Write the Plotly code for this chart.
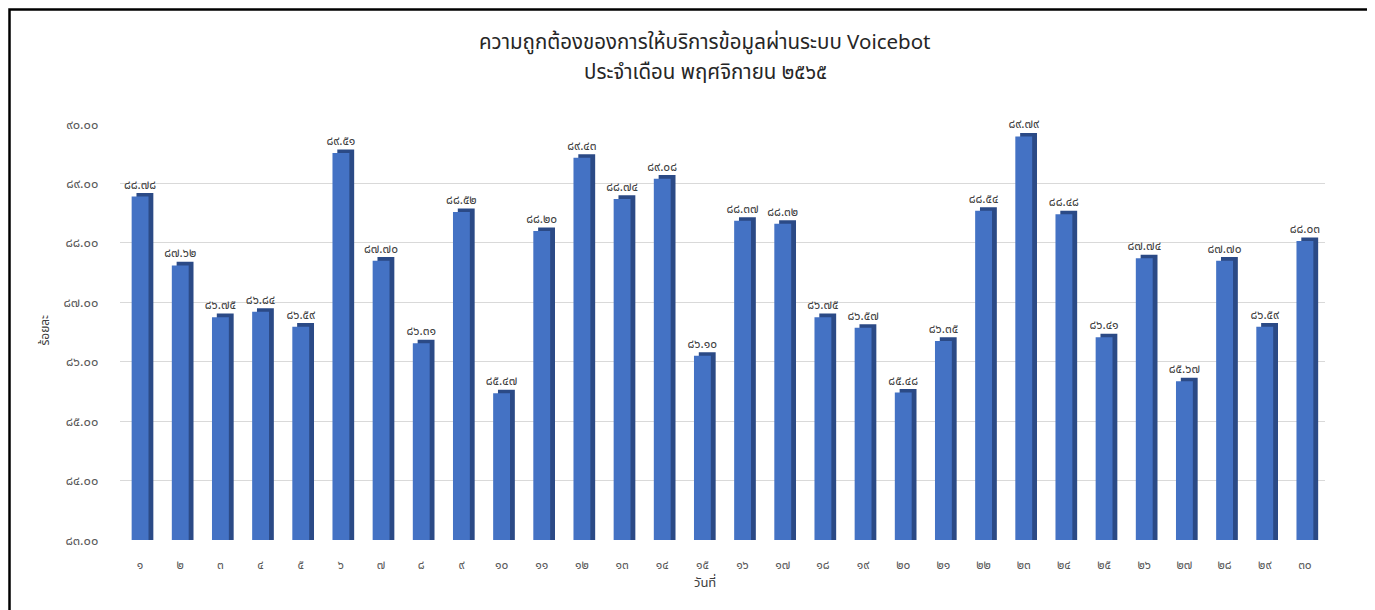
import plotly.graph_objects as go

days = list(range(1, 31))
values = [88.78, 87.62, 86.75, 86.84, 86.59, 89.51, 87.70, 86.31, 88.52, 85.47,
          88.20, 89.43, 88.74, 89.08, 86.10, 88.37, 88.32, 86.75, 86.57, 85.48,
          86.35, 88.54, 89.79, 88.48, 86.41, 87.74, 85.67, 87.70, 86.59, 88.03]
y_ticks = [83, 84, 85, 86, 87, 88, 89, 90]
title_1 = "ความถูกต้องของการให้บริการข้อมูลผ่านระบบ Voicebot"
title_2 = "ประจำเดือน พฤศจิกายน ๒๕๖๕"
x_title = "วันที่"
y_title = "ร้อยละ"

TH = str.maketrans("0123456789", "๐๑๒๓๔๕๖๗๘๙")
def th(s):
    return str(s).translate(TH)

cat_labels = [th(d) for d in days]
val_labels = [th(f"{v:.2f}") for v in values]
ytick_text = [th(f"{v:.2f}") for v in y_ticks]

font_fam = "Tahoma, 'Noto Sans Thai', 'Leelawadee UI', 'Noto Sans', sans-serif"
BASE = 83

fig = go.Figure()
# darker side (pseudo 3D depth)
fig.add_trace(go.Bar(
    x=cat_labels, y=[v + 0.06 - BASE for v in values], base=BASE,
    width=0.42, offset=-0.09,
    marker=dict(color="#2b4a86", line=dict(width=0)),
    hoverinfo="skip", showlegend=False,
))
fig.add_trace(go.Bar(
    x=cat_labels, y=[v - BASE for v in values], base=BASE,
    width=0.42, offset=-0.21,
    marker=dict(color="#4472c4", line=dict(width=0)),
    text=val_labels, textposition="outside", cliponaxis=False,
    constraintext="none",
    textfont=dict(size=12, color="#404040", family=font_fam),
    showlegend=False,
))

fig.update_layout(
    width=1367, height=602,
    barmode="overlay",
    paper_bgcolor="white", plot_bgcolor="white",
    margin=dict(l=112, r=50, t=116, b=70, autoexpand=False),
    font=dict(family=font_fam, color="#595959"),
    xaxis=dict(
        automargin=False,
        tickfont=dict(size=12, color="#595959"),
        ticks="outside", ticklen=14, tickcolor="rgba(0,0,0,0)",
        showgrid=False, showline=False,
    ),
    yaxis=dict(
        automargin=False,
        range=[83, 90], tickvals=y_ticks, ticktext=ytick_text,
        tickfont=dict(size=13, color="#595959"),
        ticks="outside", ticklen=18, tickcolor="rgba(0,0,0,0)",
        showgrid=True, gridcolor="#d9d9d9", gridwidth=1,
        zeroline=False, showline=False,
    ),
    annotations=[
        dict(text=title_1, xref="paper", yref="paper", x=0.4855, y=1.195,
             xanchor="center", yanchor="middle", showarrow=False,
             font=dict(size=20.5, color="#262626", family=font_fam)),
        dict(text=title_2, xref="paper", yref="paper", x=0.4855, y=1.123,
             xanchor="center", yanchor="middle", showarrow=False,
             font=dict(size=20.5, color="#262626", family=font_fam)),
        dict(text=x_title, xref="paper", yref="paper", x=0.4855, y=-0.103,
             xanchor="center", yanchor="middle", showarrow=False,
             font=dict(size=13, color="#404040", family=font_fam)),
        dict(text=y_title, xref="paper", yref="paper", x=-0.0625, y=0.505,
             xanchor="center", yanchor="middle", showarrow=False, textangle=-90,
             font=dict(size=12, color="#404040", family=font_fam)),
    ],
    shapes=[dict(type="rect", xref="paper", yref="paper",
                 x0=-0.0917, x1=1.0365, y0=-0.3, y1=1.2752,
                 line=dict(color="black", width=2.5))],
)

fig.write_html("out.html")
